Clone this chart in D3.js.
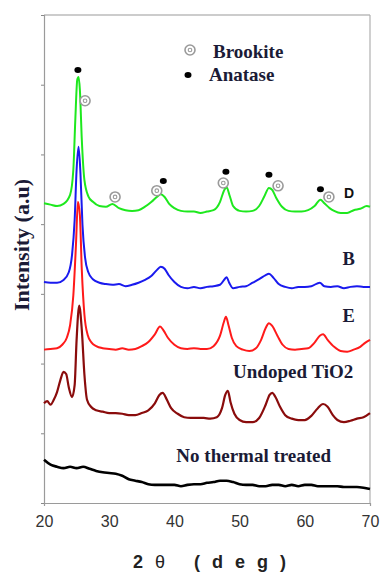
<!DOCTYPE html>
<html><head><meta charset="utf-8">
<script src="https://cdn.jsdelivr.net/npm/d3@7"></script>
<style>html,body{margin:0;padding:0;background:#fff;}svg{display:block;}</style>
</head><body>
<script>
// ---- data (2θ in degrees, intensity in arbitrary stacked units) ----
const xTicks = [20, 30, 40, 50, 60, 70];
const yTicks = [0, 1, 2, 3, 4, 5, 6, 7];

const seriesD = [[20,4.30],[21,4.28],[22,4.26],[23,4.29],[24,4.42],[24.5,4.78],[24.8,5.49],[25.1,6.07],[25.3,6.11],[25.5,5.93],[25.8,5.21],[26.2,4.63],[26.8,4.40],[27.5,4.32],[28.5,4.26],[29.5,4.25],[30.5,4.29],[31.5,4.23],[32.5,4.20],[33.5,4.19],[34.5,4.20],[35.5,4.25],[36.5,4.32],[37.3,4.39],[37.9,4.43],[38.5,4.39],[39.2,4.29],[40,4.23],[41,4.19],[42,4.18],[43,4.18],[44,4.16],[45,4.18],[46,4.20],[47,4.32],[47.6,4.48],[48,4.53],[48.5,4.40],[49,4.26],[50,4.19],[51,4.18],[52,4.19],[53,4.26],[53.8,4.40],[54.5,4.52],[55,4.49],[55.6,4.38],[56.5,4.25],[57.5,4.19],[58.5,4.18],[59.5,4.18],[60.5,4.20],[61.5,4.26],[62.4,4.35],[63,4.30],[63.8,4.23],[64.5,4.19],[65.5,4.16],[66.5,4.16],[67.5,4.20],[68.5,4.22],[69.5,4.26],[70,4.25]];

const seriesB = [[20,3.17],[21,3.16],[22,3.16],[23,3.20],[23.8,3.31],[24.3,3.56],[24.7,4.06],[25.0,4.78],[25.3,5.11],[25.6,4.71],[25.9,3.99],[26.3,3.52],[26.8,3.31],[27.5,3.21],[28.5,3.16],[29.5,3.14],[30.5,3.13],[31.5,3.14],[32.5,3.11],[33.5,3.13],[34.5,3.16],[35.5,3.20],[36.5,3.26],[37.3,3.34],[37.9,3.39],[38.5,3.36],[39.1,3.27],[40,3.17],[41,3.10],[42,3.08],[43,3.10],[44,3.08],[45,3.10],[46,3.11],[47,3.13],[47.7,3.21],[48,3.24],[48.4,3.16],[49,3.08],[50,3.10],[51,3.11],[52,3.16],[53,3.21],[54,3.27],[54.5,3.29],[55.2,3.23],[56,3.14],[57,3.10],[58,3.08],[59,3.10],[60,3.10],[61,3.11],[62.3,3.16],[63,3.11],[64,3.10],[65,3.11],[66,3.08],[67,3.10],[68,3.11],[69,3.10],[70,3.10]];

const seriesE = [[20,2.20],[21,2.21],[22,2.22],[22.8,2.27],[23.5,2.37],[24.0,2.55],[24.5,2.98],[24.9,3.70],[25.2,4.32],[25.5,4.13],[25.8,3.34],[26.2,2.70],[26.7,2.41],[27.3,2.30],[28,2.25],[29,2.22],[30,2.21],[31,2.20],[32,2.22],[33,2.20],[34,2.21],[35,2.25],[36,2.31],[37,2.42],[37.8,2.53],[38.3,2.48],[39,2.37],[40,2.27],[41,2.22],[42,2.21],[43,2.22],[44,2.21],[45,2.21],[46,2.25],[47,2.40],[47.6,2.60],[47.9,2.67],[48.3,2.55],[48.8,2.37],[49.5,2.25],[50.5,2.20],[51.5,2.18],[52.5,2.22],[53.3,2.34],[54,2.51],[54.5,2.58],[55,2.54],[55.8,2.40],[56.6,2.27],[57.5,2.21],[58.5,2.20],[59.5,2.21],[60.5,2.22],[61.5,2.30],[62.3,2.40],[62.8,2.42],[63.5,2.34],[64.5,2.24],[65.5,2.18],[66.5,2.17],[67.5,2.20],[68.5,2.24],[69.3,2.30],[70,2.34]];

const seriesUndoped = [[20,1.43],[20.5,1.46],[21,1.41],[21.5,1.48],[22,1.59],[22.5,1.76],[23,1.88],[23.4,1.85],[23.8,1.66],[24.3,1.52],[24.7,1.69],[25.0,2.34],[25.4,2.83],[25.8,2.48],[26.2,1.84],[26.6,1.48],[27.2,1.38],[28,1.33],[29,1.31],[30,1.29],[31,1.29],[32,1.28],[33,1.26],[34,1.26],[35,1.29],[36,1.33],[37,1.43],[37.7,1.55],[38.2,1.58],[38.8,1.49],[39.5,1.36],[40.5,1.28],[41.5,1.23],[42.5,1.22],[43.5,1.22],[44.5,1.22],[45.5,1.21],[46.5,1.23],[47.3,1.36],[47.8,1.55],[48.2,1.61],[48.6,1.45],[49.2,1.28],[50,1.19],[51,1.16],[52,1.16],[53,1.22],[54,1.41],[54.6,1.55],[55,1.58],[55.5,1.52],[56.2,1.38],[57,1.26],[58,1.21],[59,1.19],[60,1.19],[61,1.25],[62,1.36],[62.8,1.42],[63.5,1.38],[64.3,1.26],[65,1.19],[66,1.16],[67,1.18],[68,1.21],[69,1.23],[70,1.29]];

const seriesNoThermal = [[20,0.62],[21,0.55],[22,0.52],[23,0.50],[24,0.52],[25,0.50],[26,0.52],[27,0.49],[28,0.46],[29,0.44],[30,0.43],[31,0.42],[32,0.39],[33,0.34],[34,0.32],[35,0.30],[36,0.27],[37,0.26],[38,0.26],[39,0.26],[40,0.26],[41,0.24],[42,0.26],[43,0.27],[44,0.27],[45,0.29],[46,0.30],[47,0.32],[48,0.32],[49,0.30],[50,0.27],[51,0.26],[52,0.26],[53,0.24],[54,0.24],[55,0.26],[56,0.26],[57,0.24],[58,0.26],[59,0.24],[60,0.26],[61,0.26],[62,0.24],[63,0.24],[64,0.24],[65,0.24],[66,0.23],[67,0.23],[68,0.23],[69,0.22],[70,0.20]];

const anataseMarks = [[25.2,6.21],[38.3,4.62],[47.9,4.75],[54.5,4.71],[62.4,4.50]];
const brookiteMarks = [[26.3,5.77],[30.9,4.39],[37.3,4.48],[47.5,4.59],[55.9,4.55],[63.7,4.39]];

const seriesLabels = [
  {text:"D", x:66.0, y:4.37, sans:true, size:14},
  {text:"B", x:65.8, y:3.41, size:18.5},
  {text:"E", x:65.8, y:2.60, size:18.5},
  {text:"Undoped TiO2", x:49.0, y:1.79, size:19},
  {text:"No thermal treated", x:40.3, y:0.59, size:19}
];

// ---- layout ----
const W = 383, H = 573;
const margin = {left:44, right:13, top:15, bottom:70};
const svg = d3.select("body").append("svg").attr("width", W).attr("height", H);

const x = d3.scaleLinear().domain([20,70]).range([margin.left, W - margin.right]);
const y = d3.scaleLinear().domain([0,7]).range([H - margin.bottom, margin.top]);

const frameColor = "#9a9a9a";
svg.append("line").attr("x1", x(20)).attr("x2", x(70)).attr("y1", y(7)).attr("y2", y(7)).attr("stroke", frameColor).attr("stroke-width", 1.2);
svg.append("line").attr("x1", x(70)).attr("x2", x(70)).attr("y1", y(7)).attr("y2", y(0)).attr("stroke", "#b0b0b0").attr("stroke-width", 1.2);

const xAxis = svg.append("g").attr("transform", `translate(0,${y(0)})`)
  .call(d3.axisBottom(x).tickValues(xTicks).tickSize(0).tickSizeOuter(3).tickPadding(13));
xAxis.select(".domain").attr("stroke", frameColor).attr("stroke-width", 1.2);
xAxis.selectAll("text").attr("font-family", "'Liberation Sans', Arial, sans-serif").attr("font-size", 16).attr("fill", "#333");

const yAxis = svg.append("g").attr("transform", `translate(${x(20)},0)`)
  .call(d3.axisLeft(y).tickValues(yTicks).tickSize(3).tickFormat(""));
yAxis.select(".domain").attr("stroke", frameColor).attr("stroke-width", 1.2);
yAxis.selectAll(".tick line").attr("stroke", "#888");

const line = d3.line().x(d => x(d[0])).y(d => y(d[1])).curve(d3.curveMonotoneX);
const curves = [
  {data: seriesD, color: "#1ee81e", w: 2},
  {data: seriesB, color: "#1a1aee", w: 2},
  {data: seriesE, color: "#ff1a1a", w: 2},
  {data: seriesUndoped, color: "#8a0c0c", w: 2.2},
  {data: seriesNoThermal, color: "#000000", w: 2.6}
];
curves.forEach(c => {
  svg.append("path").datum(c.data).attr("d", line)
    .attr("fill", "none").attr("stroke", c.color).attr("stroke-width", c.w)
    .attr("stroke-linejoin", "round");
});

function brookite(g, cx, cy) {
  g.append("circle").attr("cx", cx).attr("cy", cy).attr("r", 5).attr("fill", "#fff").attr("stroke", "#9a9a9a").attr("stroke-width", 1.6);
  g.append("circle").attr("cx", cx).attr("cy", cy).attr("r", 1.8).attr("fill", "none").attr("stroke", "#9a9a9a").attr("stroke-width", 1.1);
}
function anatase(g, cx, cy) {
  g.append("ellipse").attr("cx", cx).attr("cy", cy).attr("rx", 3.5).attr("ry", 3).attr("fill", "#000");
}
const mk = svg.append("g");
brookiteMarks.forEach(d => brookite(mk, x(d[0]), y(d[1])));
anataseMarks.forEach(d => anatase(mk, x(d[0]), y(d[1])));

const serif = "'Liberation Serif', 'Times New Roman', serif";
const txtColor = "#1b1b36";
brookite(svg, 190, 50);
svg.append("text").attr("x", 213).attr("y", 58).text("Brookite")
  .attr("font-family", serif).attr("font-weight", "bold").attr("font-size", 19).attr("fill", txtColor);
anatase(svg, 188, 75);
svg.append("text").attr("x", 209).attr("y", 81).text("Anatase")
  .attr("font-family", serif).attr("font-weight", "bold").attr("font-size", 19).attr("fill", txtColor);

seriesLabels.forEach(l => {
  svg.append("text").attr("x", x(l.x)).attr("y", y(l.y)).text(l.text)
    .attr("font-family", l.sans ? "'Liberation Sans', Arial, sans-serif" : serif)
    .attr("font-weight", "bold").attr("font-size", l.size)
    .attr("fill", l.sans ? "#111" : txtColor);
});

svg.append("text").attr("transform", "translate(21,245) rotate(-90)")
  .attr("text-anchor", "middle").attr("dominant-baseline", "central")
  .attr("font-family", serif).attr("font-weight", "bold").attr("font-size", 22).attr("fill", txtColor)
  .text("Intensity (a.u)");

const xt = svg.append("text").attr("x", 133).attr("y", 568)
  .attr("font-family", "'Liberation Sans', Arial, sans-serif").attr("font-weight", "bold")
  .attr("font-size", 18).attr("letter-spacing", 12).attr("fill", "#222");
xt.append("tspan").text("2");
xt.append("tspan").attr("font-weight", "normal").text("θ");
xt.append("tspan").text(" (deg)");
</script>
</body></html>
